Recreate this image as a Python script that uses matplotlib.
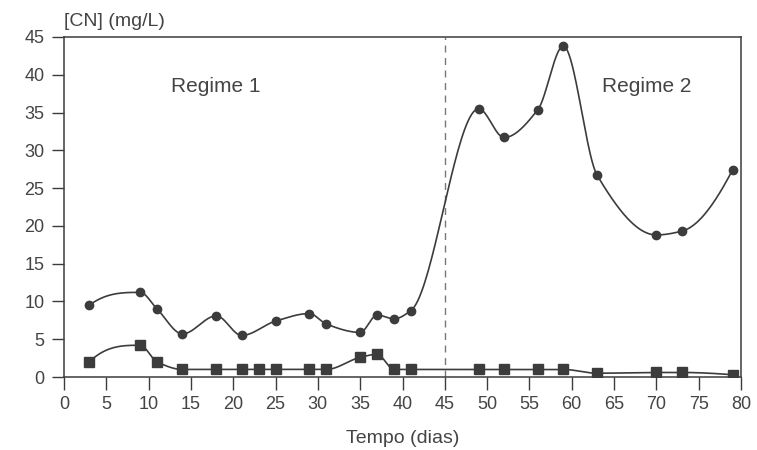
import numpy as np
import matplotlib
matplotlib.use("Agg")
import matplotlib.pyplot as plt

plt.rcParams['font.family'] = ['Liberation Sans', 'DejaVu Sans']

# Data
days_circ = [3, 9, 11, 14, 18, 21, 25, 29, 31, 35, 37, 39, 41, 49, 52, 56, 59, 63, 70, 73, 79]
cn_circ = [9.5, 11.2, 9.0, 5.7, 8.1, 5.5, 7.4, 8.4, 7.0, 5.9, 8.2, 7.7, 8.8,
           35.5, 31.7, 35.4, 43.8, 26.7, 18.8, 19.3, 27.4]

days_sq = [3, 9, 11, 14, 18, 21, 23, 25, 29, 31, 35, 37, 39, 41, 49, 52, 56, 59, 63, 70, 73, 79]
cn_sq = [2.0, 4.2, 2.0, 1.0, 1.0, 1.0, 1.0, 1.0, 1.0, 1.0, 2.6, 3.0, 1.0, 1.0,
         1.0, 1.0, 1.0, 1.0, 0.5, 0.6, 0.6, 0.3]

x_ticks = list(range(0, 85, 5))
y_ticks = list(range(0, 50, 5))
regime_split = 45
labels = ["Regime 1", "Regime 2"]

INK = '#3c3c3c'


def _end_slope(h0, h1, d0, d1):
    m = ((2 * h0 + h1) * d0 - h0 * d1) / (h0 + h1)
    if np.sign(m) != np.sign(d0):
        m = 0.0
    elif np.sign(d0) != np.sign(d1) and abs(m) > 3 * abs(d0):
        m = 3 * d0
    return m


def smooth_path(x, y, n=40):
    """Shape-preserving (monotone cubic) smoothed line through the points."""
    x = np.asarray(x, float)
    y = np.asarray(y, float)
    h = np.diff(x)
    d = np.diff(y) / h
    m = np.zeros_like(y)
    for k in range(1, len(x) - 1):
        if d[k - 1] * d[k] <= 0:
            m[k] = 0.0
        else:
            w1 = 2 * h[k] + h[k - 1]
            w2 = h[k] + 2 * h[k - 1]
            m[k] = (w1 + w2) / (w1 / d[k - 1] + w2 / d[k])
    m[0] = _end_slope(h[0], h[1], d[0], d[1])
    m[-1] = _end_slope(h[-1], h[-2], d[-1], d[-2])
    xs, ys = [x[0]], [y[0]]
    t = np.linspace(0, 1, n)[1:]
    for k in range(len(x) - 1):
        h00 = 2 * t ** 3 - 3 * t ** 2 + 1
        h10 = t ** 3 - 2 * t ** 2 + t
        h01 = -2 * t ** 3 + 3 * t ** 2
        h11 = t ** 3 - t ** 2
        xs.extend(x[k] + t * h[k])
        ys.extend(h00 * y[k] + h10 * h[k] * m[k] + h01 * y[k + 1] + h11 * h[k] * m[k + 1])
    return np.array(xs), np.array(ys)


fig = plt.figure(figsize=(7.57, 4.5), dpi=100)
ax = fig.add_axes([64 / 757, 1 - 377 / 450, (741 - 64) / 757, (377 - 37) / 450])

sx, sy = smooth_path(days_circ, cn_circ)
ax.plot(sx, sy, color=INK, lw=1.2, zorder=3)
ax.plot(days_circ, cn_circ, 'o', color=INK, ms=6, zorder=4)

qx, qy = smooth_path(days_sq, cn_sq)
ax.plot(qx, qy, color=INK, lw=1.2, zorder=3)
ax.plot(days_sq, cn_sq, 's', color=INK, ms=7.5, zorder=4)

ax.axvline(regime_split, color='#777777', lw=1.0, ls=(0, (5, 4)), zorder=2)

ax.set_xlim(0, 80)
ax.set_ylim(0, 45)
ax.set_xticks(x_ticks)
ax.set_yticks(y_ticks)
ax.tick_params(direction='out', length=9, width=1.0, color=INK, labelcolor='#444444',
               labelsize=13, pad=5)
for s in ax.spines.values():
    s.set_color(INK)
    s.set_linewidth(1.1)

ax.set_xlabel("Tempo (dias)", fontsize=14, color='#444444', labelpad=12)
ax.text(0, 1.02, "[CN] (mg/L)", transform=ax.transAxes, ha='left', va='bottom',
        fontsize=14, color='#444444')
ax.text(17.9, 38.4, labels[0], ha='center', va='center', fontsize=15, color='#444444')
ax.text(68.8, 38.4, labels[1], ha='center', va='center', fontsize=15, color='#444444')

fig.savefig("out.png", dpi=100)
